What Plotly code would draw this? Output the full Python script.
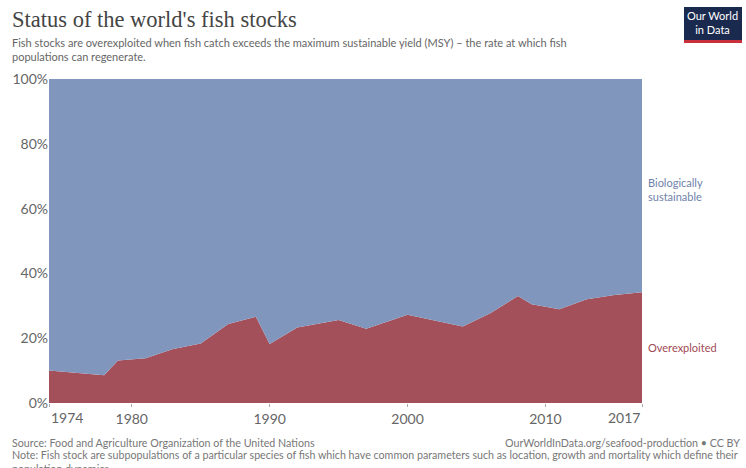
import plotly.graph_objects as go

years = [1974, 1978, 1979, 1981, 1983, 1985, 1987, 1989, 1990, 1992, 1995, 1997,
         2000, 2004, 2006, 2008, 2009, 2011, 2013, 2015, 2017]
overexploited = [10.0, 8.6, 13.1, 13.8, 16.7, 18.4, 24.4, 26.6, 18.2, 23.3, 25.6, 22.9,
                 27.2, 23.6, 27.7, 33.0, 30.5, 28.9, 32.0, 33.3, 34.2]
sustainable = [round(100 - v, 1) for v in overexploited]
x_ticks = [1974, 1980, 1990, 2000, 2010, 2017]
x_tick_labels = ["", "1980", "1990", "2000", "2010", ""]
y_ticks = [0, 20, 40, 60, 80, 100]
y_tick_labels = ["0%", "20%", "40%", "60%", "80%", "100%"]

RED = "#a4505b"
BLUE = "#8096bd"

fig = go.Figure()
fig.add_trace(go.Scatter(x=years, y=overexploited, name="Overexploited",
                         mode="lines", stackgroup="one", line=dict(width=0, color=RED),
                         fillcolor=RED))
fig.add_trace(go.Scatter(x=years, y=sustainable, name="Biologically sustainable",
                         mode="lines", stackgroup="one", line=dict(width=0, color=BLUE),
                         fillcolor=BLUE))

W, H = 746, 468
L, R, T, B = 49, 104, 79, 65
pw, ph = W - L - R, H - T - B

def px(x):
    return (x - L) / pw

def py(y):
    return (H - B - y) / ph

fig.update_layout(
    width=W, height=H,
    margin=dict(l=L, r=R, t=T, b=B),
    paper_bgcolor="white", plot_bgcolor="white",
    showlegend=False,
    font=dict(family="Lato", color="#666"),
    xaxis=dict(range=[1974, 2017], tickvals=x_ticks, ticktext=x_tick_labels,
               ticks="outside", ticklen=3, tickcolor="#aaa", showgrid=False, zeroline=False,
               tickfont=dict(size=14, color="#666"), showline=False),
    yaxis=dict(range=[0, 100], tickvals=y_ticks, ticktext=y_tick_labels,
               showgrid=True, gridcolor="#cfd4dd", griddash="dash", zeroline=False,
               tickfont=dict(size=14, color="#666"), ticks="", layer="above traces"),
)

annotations = [
    dict(text="Status of the world's fish stocks", x=px(10), y=py(5), xanchor="left", yanchor="top",
         font=dict(family="Liberation Serif", size=22.5, color="#444")),
    dict(text="Fish stocks are overexploited when fish catch exceeds the maximum sustainable yield (MSY) – the rate at which fish<br>populations can regenerate.",
         x=px(10), y=py(34), xanchor="left", yanchor="top", align="left",
         font=dict(family="Lato", size=11, color="#666")),
    dict(text="Biologically<br>sustainable", x=px(646), y=py(174), xanchor="left", yanchor="top",
         align="left", font=dict(family="Lato", size=11, color="#6f82aa")),
    dict(text="Overexploited", x=px(646), y=py(347), xanchor="left", yanchor="middle",
         align="left", font=dict(family="Lato", size=11, color="#a04a55")),
    dict(text="Source: Food and Agriculture Organization of the United Nations", x=px(10), y=py(434),
         xanchor="left", yanchor="top", font=dict(family="Lato", size=10.7, color="#777")),
    dict(text="OurWorldInData.org/seafood-production • CC BY", x=px(742), y=py(434),
         xanchor="right", yanchor="top", font=dict(family="Lato", size=10.7, color="#777")),
    dict(text="Note: Fish stock are subpopulations of a particular species of fish which have common parameters such as location, growth and mortality which define their<br>population dynamics.",
         x=px(10), y=py(446), xanchor="left", yanchor="top", align="left",
         font=dict(family="Lato", size=10.7, color="#777")),
    dict(text="Our World<br>in Data", x=px(713), y=py(23), xanchor="center", yanchor="middle",
         align="center", font=dict(family="Lato", size=11, color="white")),
]
for a in annotations:
    a.update(xref="paper", yref="paper", showarrow=False)
# end tick labels aligned inward, as in the reference
annotations.append(dict(text=str(x_ticks[0]), x=x_ticks[0], xref="x", y=py(407), yref="paper",
                        xanchor="left", yanchor="top", showarrow=False,
                        font=dict(family="Lato", size=14, color="#666")))
annotations.append(dict(text=str(x_ticks[-1]), x=x_ticks[-1], xref="x", y=py(407), yref="paper",
                        xanchor="right", yanchor="top", showarrow=False,
                        font=dict(family="Lato", size=14, color="#666")))
fig.update_layout(annotations=annotations)

fig.add_shape(type="rect", xref="paper", yref="paper", x0=px(684), x1=px(742), y0=py(40), y1=py(7),
              fillcolor="#1a2a4f", line=dict(width=0), layer="above")
fig.add_shape(type="rect", xref="paper", yref="paper", x0=px(684), x1=px(742), y0=py(43), y1=py(40),
              fillcolor="#c8313b", line=dict(width=0), layer="above")

fig.write_html("out.html")
